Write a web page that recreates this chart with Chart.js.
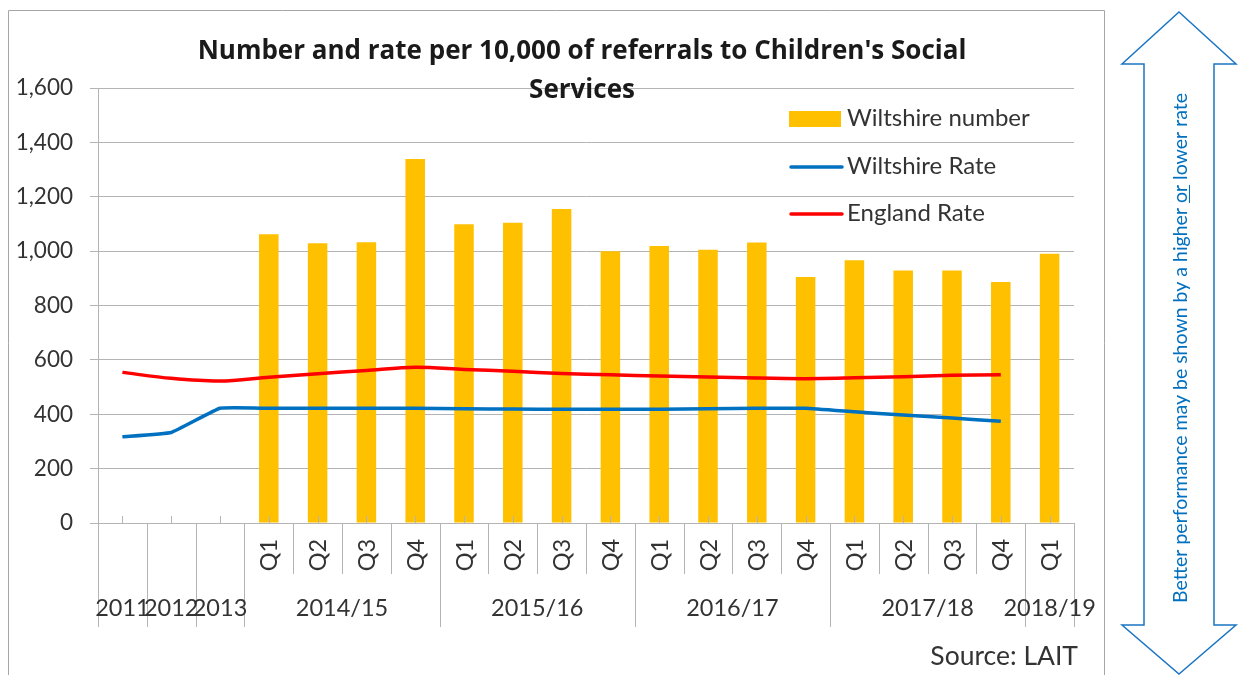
<!DOCTYPE html>
<html>
<head>
<meta charset="utf-8">
<script src="https://cdn.jsdelivr.net/npm/chart.js@4.4.1/dist/chart.umd.min.js"></script>
<style>
  html, body { margin: 0; padding: 0; background: #ffffff; }
  #wrap { width: 1243px; height: 675px; position: relative; }
</style>
</head>
<body>
<div id="wrap"><canvas id="c" width="1243" height="675"></canvas></div>
<script>
// ---- data ----
const categories = ['2011','2012','2013','Q1','Q2','Q3','Q4','Q1','Q2','Q3','Q4','Q1','Q2','Q3','Q4','Q1','Q2','Q3','Q4','Q1'];
const groupLabels = ['2011','2012','2013','2014/15','2015/16','2016/17','2017/18','2018/19'];
const groupSpans = [1,1,1,4,4,4,4,1];
const wiltshireNumber = [null,null,null,1062,1029,1033,1339,1099,1104,1155,1000,1019,1005,1032,905,966,929,929,886,990];
const wiltshireRate = [317,333,422,422,422,422,422,420,419,418,418,418,420,422,422,409,397,386,374,null];
const englandRate = [554,532,522,536,549,561,573,565,558,550,545,541,537,533,531,534,538,543,545,null];
const yTicks = { min: 0, max: 1600, step: 200 };
const titleLines = ["Number and rate per 10,000 of referrals to Children's Social", 'Services'];
const seriesNames = ['Wiltshire number', 'Wiltshire Rate', 'England Rate'];
const sourceText = 'Source: LAIT';
const arrowText = ['Better performance may be shown by a higher ', 'or', ' lower rate'];

const FONT = 'Lato, "Open Sans", sans-serif';
const TITLE_FONT = '"Open Sans", Lato, sans-serif';
const GRID = '#b4b4b4';
const TEXT = '#333333';
const COLORS = { bar: '#ffc000', wilts: '#0070c0', eng: '#ff0000' };

const decor = {
  id: 'decor',
  afterDraw(chart) {
    const ctx = chart.ctx;
    const x = chart.scales.x;
    const area = chart.chartArea;
    const n = categories.length;
    const step = (area.right - area.left) / n;
    const bottom = area.bottom;
    ctx.save();

    // chart border
    ctx.strokeStyle = '#a6a6a6';
    ctx.lineWidth = 1;
    ctx.beginPath();
    ctx.moveTo(8.5, 690); ctx.lineTo(8.5, 10.5); ctx.lineTo(1104.5, 10.5); ctx.lineTo(1104.5, 690);
    ctx.stroke();

    // category center ticks (inside)
    ctx.strokeStyle = GRID;
    ctx.beginPath();
    for (let i = 0; i < n; i++) {
      const cx = Math.round(x.getPixelForValue(i)) + 0.5;
      ctx.moveTo(cx, bottom - 7); ctx.lineTo(cx, bottom);
    }
    ctx.stroke();

    // multi-level separators
    const fullIdx = new Set([0]);
    let acc = 0;
    groupSpans.forEach(s => { acc += s; fullIdx.add(acc); });
    ctx.beginPath();
    for (let b = 0; b <= n; b++) {
      const bx = Math.round(area.left + b * step) + 0.5;
      const isFull = fullIdx.has(b);
      ctx.moveTo(bx, bottom);
      ctx.lineTo(bx, isFull ? 627 : 574);
    }
    ctx.stroke();

    // Q labels (rotated) and group labels
    ctx.fillStyle = TEXT;
    ctx.font = '23.5px ' + FONT;
    ctx.textAlign = 'center';
    ctx.textBaseline = 'middle';
    acc = 0;
    groupSpans.forEach((s, g) => {
      if (s > 1 || g === groupSpans.length - 1) {
        for (let k = 0; k < s; k++) {
          const i = acc + k;
          const cx = x.getPixelForValue(i);
          ctx.save();
          ctx.translate(cx + 1, 555);
          ctx.rotate(-Math.PI / 2);
          ctx.fillText(categories[i], 0, 0);
          ctx.restore();
        }
      }
      const gx = area.left + (acc + s / 2) * step;
      ctx.fillText(groupLabels[g], gx, 608);
      acc += s;
    });

    // title
    ctx.fillStyle = '#1a1a1a';
    ctx.font = 'bold 26px ' + TITLE_FONT;
    ctx.fillText(titleLines[0], 582, 52);
    ctx.fillText(titleLines[1], 582, 91);

    // legend
    ctx.font = '24px ' + FONT;
    ctx.textAlign = 'left';
    ctx.fillStyle = COLORS.bar;
    ctx.fillRect(789, 111, 52, 16);
    ctx.lineWidth = 3.5;
    ctx.lineCap = 'round';
    ctx.strokeStyle = COLORS.wilts;
    ctx.beginPath(); ctx.moveTo(791, 167); ctx.lineTo(842, 167); ctx.stroke();
    ctx.strokeStyle = COLORS.eng;
    ctx.beginPath(); ctx.moveTo(791, 214); ctx.lineTo(842, 214); ctx.stroke();
    ctx.fillStyle = TEXT;
    ctx.fillText(seriesNames[0], 847, 118);
    ctx.fillText(seriesNames[1], 847, 166);
    ctx.fillText(seriesNames[2], 847, 213);

    // source
    ctx.textAlign = 'right';
    ctx.font = '26.5px ' + FONT;
    ctx.fillText(sourceText, 1078, 656);

    // arrow
    ctx.strokeStyle = '#1b75c4';
    ctx.lineWidth = 1.5;
    ctx.lineCap = 'butt';
    ctx.lineJoin = 'miter';
    ctx.beginPath();
    ctx.moveTo(1179, 12);
    ctx.lineTo(1236, 64);
    ctx.lineTo(1214, 64);
    ctx.lineTo(1214, 625);
    ctx.lineTo(1236, 625);
    ctx.lineTo(1179, 674);
    ctx.lineTo(1122, 625);
    ctx.lineTo(1144, 625);
    ctx.lineTo(1144, 64);
    ctx.lineTo(1122, 64);
    ctx.closePath();
    ctx.stroke();

    // arrow text (rotated, with underlined "or")
    ctx.save();
    ctx.translate(1181, 348);
    ctx.rotate(-Math.PI / 2);
    ctx.font = '19.5px ' + FONT;
    ctx.fillStyle = '#0070c0';
    ctx.textBaseline = 'middle';
    ctx.textAlign = 'left';
    const full = arrowText.join('');
    const w = ctx.measureText(full).width;
    let px = -w / 2;
    arrowText.forEach((part, idx) => {
      ctx.fillText(part, px, 0);
      const pw = ctx.measureText(part).width;
      if (idx === 1) {
        ctx.strokeStyle = '#0070c0';
        ctx.lineWidth = 1;
        ctx.beginPath();
        ctx.moveTo(px, 8.5); ctx.lineTo(px + pw, 8.5);
        ctx.stroke();
      }
      px += pw;
    });
    ctx.restore();

    ctx.restore();
  }
};

new Chart(document.getElementById('c'), {
  type: 'bar',
  data: {
    labels: categories,
    datasets: [
      {
        type: 'line', label: seriesNames[2], data: englandRate,
        borderColor: COLORS.eng, backgroundColor: COLORS.eng, borderWidth: 3.5,
        pointRadius: 0, tension: 0.3, order: 1, spanGaps: false
      },
      {
        type: 'line', label: seriesNames[1], data: wiltshireRate,
        borderColor: COLORS.wilts, backgroundColor: COLORS.wilts, borderWidth: 3.5,
        pointRadius: 0, tension: 0.1, order: 2, spanGaps: false
      },
      {
        type: 'bar', label: seriesNames[0], data: wiltshireNumber,
        backgroundColor: COLORS.bar, borderWidth: 0,
        barPercentage: 0.4, categoryPercentage: 1.0, order: 3
      }
    ]
  },
  options: {
    responsive: false,
    animation: false,
    devicePixelRatio: 1,
    layout: { padding: { top: 88, right: 169, bottom: 152, left: 0 } },
    plugins: { legend: { display: false }, title: { display: false }, tooltip: { enabled: false } },
    scales: {
      x: { display: false, offset: true },
      y: {
        min: yTicks.min, max: yTicks.max,
        ticks: { stepSize: yTicks.step, color: TEXT, font: { family: FONT, size: 22.5 }, padding: 17 },
        grid: { color: GRID, lineWidth: 1, tickLength: 8, drawTicks: true },
        border: { display: true, color: GRID },
        afterFit(scale) { scale.width = 98; }
      }
    }
  },
  plugins: [decor]
});
</script>
</body>
</html>
